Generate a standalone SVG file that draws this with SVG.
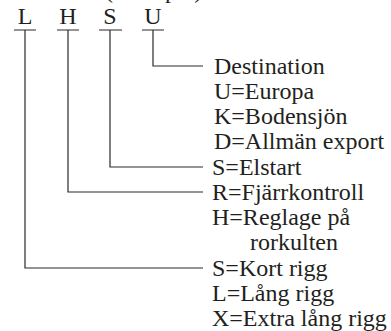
<svg xmlns="http://www.w3.org/2000/svg" width="391" height="331" viewBox="0 0 391 331">
<style>
text{font-family:"Liberation Serif","Times New Roman",serif;font-size:24px;fill:#231f20}
.c{text-anchor:middle}
.w{fill:none;stroke:#2a2a2a;stroke-width:1.2}
</style>
<rect width="391" height="331" fill="#fff"/>
<text x="105" y="-2">(exempel)</text>
<g id="code">
<text class="c" x="25" y="24">L</text>
<text class="c" x="68" y="24">H</text>
<text class="c" x="110" y="24">S</text>
<text class="c" x="153" y="24">U</text>
</g>
<g id="connectors">
<path class="w" d="M14 30H36M25 30V268H203"/>
<path class="w" d="M57 30H79M68 30V192H203"/>
<path class="w" d="M99 30H122M110 30V167H203"/>
<path class="w" d="M142 30H164M153 30V66H203"/>
</g>
<g id="destination">
<text x="214" y="73.5">Destination</text>
<text x="214" y="98.75">U=Europa</text>
<text x="214" y="124">K=Bodensjön</text>
<text x="214" y="149.25">D=Allmän export</text>
</g>
<g id="start">
<text x="212" y="174.5">S=Elstart</text>
</g>
<g id="control">
<text x="212" y="199.75">R=Fjärrkontroll</text>
<text x="212" y="225">H=Reglage på</text>
<text x="250" y="250.25">rorkulten</text>
</g>
<g id="rigg">
<text x="212" y="275.5">S=Kort rigg</text>
<text x="212" y="300.75">L=Lång rigg</text>
<text x="212" y="326">X=Extra lång rigg</text>
</g>
</svg>
